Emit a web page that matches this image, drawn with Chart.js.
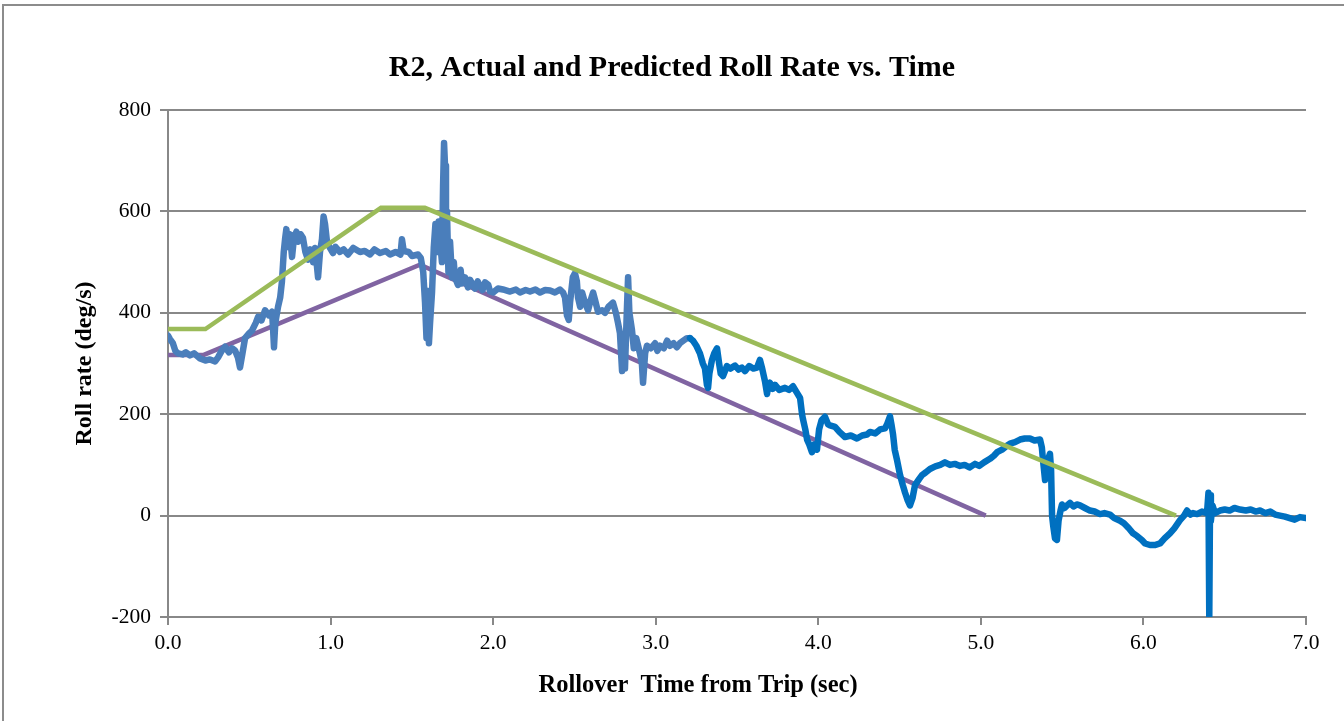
<!DOCTYPE html>
<html>
<head>
<meta charset="utf-8">
<script src="https://cdn.jsdelivr.net/npm/chart.js@4.4.1/dist/chart.umd.min.js"></script>
<style>
  html, body { margin: 0; padding: 0; background: #ffffff; overflow: hidden; }
  #wrap { position: relative; width: 1344px; height: 721px; }
  #frame { position: absolute; left: 2px; top: 4px; width: 1400px; height: 800px;
           border-top: 2px solid #8c8c8c; border-left: 2px solid #8c8c8c; pointer-events: none; }
  canvas { position: absolute; left: 0; top: 0; }
</style>
</head>
<body>
<div id="wrap">
  <canvas id="c" width="1344" height="721"></canvas>
  <div id="frame"></div>
</div>
<script>
// ---------- data ----------
const chartTitle = 'R2, Actual and Predicted Roll Rate vs. Time';
const xAxisTitle = 'Rollover  Time from Trip (sec)';
const yAxisTitle = 'Roll rate (deg/s)';

const xTickValues = [0, 1, 2, 3, 4, 5, 6, 7];
const yTickValues = [-200, 0, 200, 400, 600, 800];

// measured roll rate, first part (lighter blue)
const actualATime = [0.000,0.012,0.030,0.045,0.062,0.090,0.110,0.135,0.160,0.197,0.230,0.258,0.290,0.308,0.330,0.351,0.375,0.394,0.412,0.430,0.443,0.458,0.474,0.500,0.517,0.540,0.554,0.575,0.597,0.620,0.640,0.646,0.652,0.660,0.677,0.690,0.701,0.712,0.720,0.728,0.738,0.750,0.763,0.775,0.790,0.800,0.815,0.830,0.845,0.861,0.875,0.892,0.905,0.923,0.935,0.947,0.957,0.966,0.978,0.996,1.015,1.030,1.058,1.080,1.107,1.140,1.181,1.210,1.243,1.270,1.304,1.340,1.366,1.400,1.430,1.439,1.450,1.480,1.501,1.538,1.555,1.570,1.581,1.590,1.599,1.605,1.612,1.624,1.635,1.645,1.655,1.665,1.673,1.685,1.692,1.698,1.704,1.710,1.716,1.725,1.735,1.747,1.758,1.765,1.784,1.800,1.808,1.827,1.845,1.858,1.875,1.888,1.905,1.919,1.935,1.950,1.970,1.981,2.000,2.030,2.060,2.104,2.140,2.165,2.200,2.227,2.260,2.288,2.320,2.350,2.380,2.411,2.430,2.442,2.454,2.465,2.473,2.490,2.503,2.515,2.522,2.535,2.547,2.565,2.584,2.600,2.615,2.627,2.645,2.670,2.688,2.710,2.737,2.755,2.768,2.780,2.793,2.802,2.811,2.822,2.830,2.838,2.854,2.865,2.880,2.903,2.915,2.922,2.935,2.946,2.970,2.996,3.010,3.026,3.050,3.070,3.088,3.110,3.130,3.149,3.170,3.192,3.211];
const actualARate = [355,348,340,325,320,318,322,316,320,310,306,308,304,312,325,333,322,330,326,312,292,320,350,360,365,380,392,385,405,395,402,370,332,380,412,430,462,520,545,565,530,555,510,548,560,540,555,548,520,505,525,500,528,470,520,545,590,575,540,528,518,530,520,525,515,528,520,522,515,525,518,522,515,520,515,545,522,520,512,515,508,480,420,350,443,340,380,440,530,575,520,580,545,500,650,735,690,560,600,480,540,470,500,470,455,485,458,470,450,465,455,448,462,452,445,460,455,442,440,448,446,442,446,440,445,442,446,440,445,444,440,446,440,430,395,386,420,470,478,462,430,412,440,420,405,425,440,425,402,405,400,412,420,400,380,360,285,330,290,400,470,400,366,330,350,320,300,262,320,335,330,340,325,335,330,345,335,340,332,340,345,350,350];

// measured roll rate, second part (darker blue)
const actualBTime = [3.211,3.229,3.250,3.272,3.290,3.303,3.315,3.322,3.330,3.346,3.360,3.377,3.390,3.400,3.414,3.438,3.460,3.488,3.510,3.530,3.549,3.575,3.600,3.623,3.641,3.655,3.672,3.685,3.691,3.703,3.720,3.734,3.760,3.795,3.820,3.845,3.869,3.888,3.900,3.906,3.920,3.931,3.945,3.961,3.975,3.992,4.005,4.020,4.041,4.060,4.072,4.103,4.130,4.164,4.200,4.238,4.270,4.300,4.318,4.350,4.380,4.410,4.423,4.441,4.450,4.460,4.470,4.484,4.503,4.520,4.534,4.550,4.564,4.580,4.595,4.620,4.638,4.660,4.687,4.720,4.750,4.779,4.810,4.840,4.872,4.900,4.930,4.964,4.990,5.020,5.056,5.080,5.100,5.130,5.160,5.179,5.210,5.241,5.270,5.302,5.330,5.364,5.375,5.382,5.395,5.407,5.418,5.425,5.432,5.438,5.445,5.456,5.468,5.478,5.490,5.499,5.515,5.530,5.548,5.570,5.590,5.610,5.640,5.671,5.700,5.733,5.760,5.794,5.820,5.856,5.880,5.910,5.936,5.960,5.990,6.010,6.040,6.070,6.102,6.130,6.163,6.190,6.225,6.250,6.268,6.290,6.305,6.330,6.360,6.391,6.400,6.405,6.410,6.415,6.425,6.440,6.471,6.500,6.530,6.560,6.594,6.630,6.660,6.690,6.717,6.750,6.780,6.810,6.840,6.870,6.900,6.930,6.963,7.000];
const actualBRate = [350,345,335,320,300,290,258,252,280,307,320,330,300,280,275,295,290,296,288,292,285,295,290,292,307,290,265,240,255,262,250,258,248,252,248,255,242,232,200,190,170,150,140,125,140,130,170,188,195,180,178,175,165,155,158,152,158,160,165,162,170,172,180,196,180,160,130,110,80,60,45,30,20,35,60,72,80,85,92,97,100,105,100,102,98,100,95,102,98,105,112,118,125,130,138,142,145,150,152,152,148,150,135,110,70,90,115,122,90,0,-20,-45,-48,-10,10,22,15,20,25,18,22,20,15,10,8,3,5,2,-5,-10,-15,-25,-35,-40,-48,-55,-58,-58,-55,-45,-35,-25,-9,0,10,2,5,3,8,5,45,-200,40,-10,20,5,10,12,10,15,12,10,12,8,10,5,8,2,0,-2,-5,-8,-3,-5];

// predicted upper bound (green)
const upperTime = [0.00, 0.23, 1.31, 1.58, 6.20];
const upperRate = [368, 368, 607, 607, 0];

// predicted lower bound (purple)
const lowerTime = [0.00, 0.22, 1.55, 5.03];
const lowerRate = [317, 317, 495, 0];

// ---------- chart ----------
const toPoints = (xs, ys) => xs.map((x, i) => ({ x: x, y: ys[i] }));
const serif = '"Liberation Serif", "Times New Roman", Times, serif';
const gridGray = '#888888';

Chart.defaults.font.family = serif;
Chart.defaults.color = '#000000';

// x-axis title drawn centred under the plot like the reference (slightly left of the plot centre)
const xTitlePlugin = {
  id: 'xTitle',
  afterDraw(chart) {
    const ctx = chart.ctx;
    ctx.save();
    ctx.font = 'bold 24.5px ' + serif;
    ctx.fillStyle = '#000000';
    ctx.textAlign = 'center';
    ctx.textBaseline = 'middle';
    ctx.fillText(xAxisTitle, 698, 686);
    ctx.restore();
  }
};

new Chart(document.getElementById('c'), {
  type: 'line',
  data: {
    datasets: [
      { label: 'Predicted (upper)', data: toPoints(upperTime, upperRate),
        borderColor: '#9BBB59', borderWidth: 4.5, pointRadius: 0, tension: 0,
        borderJoinStyle: 'miter' },
      { label: 'Actual (late)', data: toPoints(actualBTime, actualBRate),
        borderColor: '#0070C0', borderWidth: 6.5, pointRadius: 0, tension: 0,
        borderJoinStyle: 'round', borderCapStyle: 'round' },
      { label: 'Actual (early)', data: toPoints(actualATime, actualARate),
        borderColor: '#4A7EBB', borderWidth: 6.5, pointRadius: 0, tension: 0,
        borderJoinStyle: 'round', borderCapStyle: 'round' },
      { label: 'Predicted (lower)', data: toPoints(lowerTime, lowerRate),
        borderColor: '#8064A2', borderWidth: 4.5, pointRadius: 0, tension: 0 }
    ]
  },
  options: {
    responsive: false,
    animation: false,
    devicePixelRatio: 1,
    layout: { padding: { left: 38, top: 0, right: 38, bottom: 0 } },
    plugins: {
      legend: { display: false },
      tooltip: { enabled: false },
      title: {
        display: true, text: chartTitle, color: '#000000',
        font: { family: serif, size: 30, weight: 'bold' },
        padding: { top: 50, bottom: 24 }
      }
    },
    scales: {
      x: {
        type: 'linear', min: 0, max: 7,
        afterBuildTicks: (s) => { s.ticks = xTickValues.map(v => ({ value: v })); },
        afterFit: (s) => { s.height = 104; s.paddingLeft = 0; s.paddingRight = 0; },
        ticks: { callback: (v) => Number(v).toFixed(1), font: { size: 21.5 }, color: '#000', padding: 5, maxRotation: 0 },
        grid: { drawOnChartArea: false, drawTicks: true, tickLength: 8, color: gridGray, lineWidth: 2 },
        border: { display: true, color: gridGray, width: 2 },
        title: { display: false, text: xAxisTitle }
      },
      y: {
        type: 'linear', min: -200, max: 800,
        afterBuildTicks: (s) => { s.ticks = yTickValues.map(v => ({ value: v })); },
        afterFit: (s) => { s.width = 130; s.paddingTop = 0; s.paddingBottom = 0; },
        ticks: { callback: (v) => String(v), font: { size: 21.5 }, color: '#000', padding: 9 },
        grid: { drawOnChartArea: true, drawTicks: true, tickLength: 8, color: gridGray, lineWidth: 2 },
        border: { display: true, color: gridGray, width: 2 },
        title: { display: true, text: yAxisTitle, color: '#000',
                 font: { family: serif, size: 24, weight: 'bold' },
                 padding: { top: 32.6, bottom: 0 } }
      }
    }
  },
  plugins: [xTitlePlugin]
});
</script>
</body>
</html>
